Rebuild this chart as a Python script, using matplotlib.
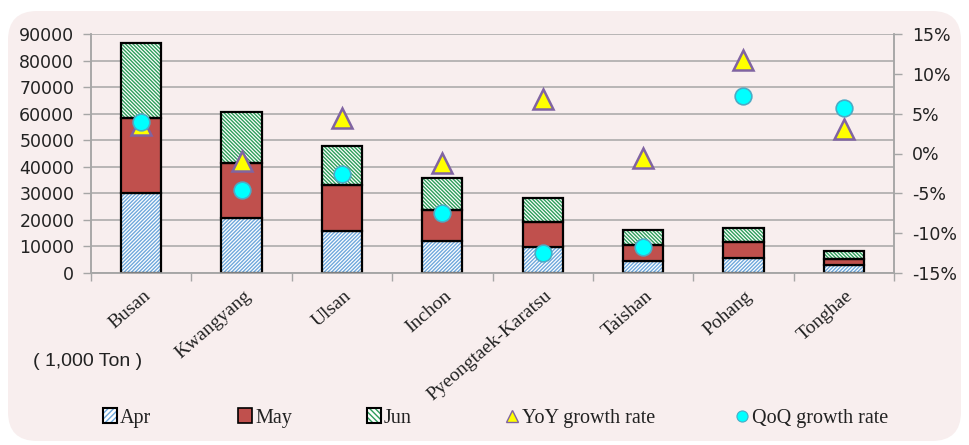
import matplotlib
matplotlib.use("Agg")
import matplotlib.pyplot as plt
from matplotlib.patches import FancyBboxPatch, Patch
from matplotlib.lines import Line2D
from matplotlib.legend_handler import HandlerTuple
from matplotlib.ticker import FuncFormatter
from matplotlib import font_manager
import numpy as np

ports = ["Busan", "Kwangyang", "Ulsan", "Inchon", "Pyeongtaek-Karatsu",
         "Taishan", "Pohang", "Tonghae"]
apr = [30300, 20700, 15900, 11900, 9900, 4400, 5600, 2900]
may = [28000, 20900, 17100, 11900, 9200, 6000, 5900, 2500]
jun = [28300, 19000, 15000, 12000, 9100, 5900, 5600, 2900]
yoy = [3.6, -1.0, 4.4, -1.2, 6.9, -0.6, 11.7, 3.1]
qoq = [4.0, -4.6, -2.6, -7.5, -12.5, -11.7, 7.2, 5.7]
left_ticks = [0, 10000, 20000, 30000, 40000, 50000, 60000, 70000, 80000, 90000]
right_ticks = [-15, -10, -5, 0, 5, 10, 15]

BG = "#F8EEEE"
GRID = "#A6A6A6"
APR_H = "#6FA8DC"
MAY_C = "#C0504D"
JUN_H = "#2E9E5B"

names = {f.name for f in font_manager.fontManager.ttflist}
narrow = "Liberation Sans Narrow" if "Liberation Sans Narrow" in names else "Liberation Sans"

fig = plt.figure(figsize=(9.69, 4.45), dpi=100)
fig.patch.set_facecolor("white")
box = FancyBboxPatch((8/969, 4/445), 953/969, 430/445,
                     boxstyle="round,pad=0,rounding_size=0.03",
                     transform=fig.transFigure, facecolor=BG, edgecolor="none",
                     zorder=-10, mutation_aspect=969/445)
fig.patches.append(box)

plt.rcParams['hatch.linewidth'] = 1.0
ax = fig.add_axes([91/969, 1-273/445, (894-91)/969, (273-34)/445])
ax.set_facecolor("none")
x = np.arange(len(ports))
w = 0.4
HA = "/" * 9
HJ = "\\" * 9

bottom = np.zeros(len(ports))
ax.bar(x, apr, w, bottom=bottom, facecolor="white", edgecolor=APR_H, hatch=HA, linewidth=0, zorder=2)
ax.bar(x, apr, w, bottom=bottom, fill=False, edgecolor="black", linewidth=1.6, zorder=3)
bottom += np.array(apr)
ax.bar(x, may, w, bottom=bottom, facecolor=MAY_C, edgecolor="black", linewidth=1.6, zorder=3)
bottom += np.array(may)
ax.bar(x, jun, w, bottom=bottom, facecolor="white", edgecolor=JUN_H, hatch=HJ, linewidth=0, zorder=2)
ax.bar(x, jun, w, bottom=bottom, fill=False, edgecolor="black", linewidth=1.6, zorder=3)

ax.set_xlim(-0.5, len(ports) - 0.5)
ax.set_ylim(0, 90000)
ax.set_yticks(left_ticks)
ax.set_yticklabels([str(v) for v in left_ticks], fontsize=12.5, color="#222222", family="DejaVu Sans")
ax.yaxis.grid(True, color=GRID, linewidth=1.1, zorder=0)
ax.set_axisbelow(True)
ax.tick_params(axis="y", direction="out", length=6, width=1, color=GRID, pad=6)
ax.set_xticks(np.arange(len(ports) + 1) - 0.5)
ax.set_xticklabels([])
ax.tick_params(axis="x", direction="out", length=6, width=1, color=GRID)
ax.spines["top"].set_visible(False)
for s in ["left", "right", "bottom"]:
    ax.spines[s].set_color(GRID)
    ax.spines[s].set_linewidth(1.1)

for i, name in enumerate(ports):
    ax.annotate(name, xy=(i, 0), xycoords="data", xytext=(5, -15), textcoords="offset points",
                rotation=41, ha="right", va="center", rotation_mode="anchor",
                fontsize=14, family="Liberation Serif", color="#222222")

ax2 = ax.twinx()
ax2.set_ylim(-15, 15)
ax2.set_yticks(right_ticks)
ax2.yaxis.set_major_formatter(FuncFormatter(lambda v, p: f"{int(v)}%"))
ax2.tick_params(axis="y", direction="out", length=6, width=1, color=GRID, pad=7,
                labelcolor="#222222", labelsize=12.5)
ax2.spines["top"].set_visible(False)
for s in ["left", "right", "bottom"]:
    ax2.spines[s].set_color(GRID)
    ax2.spines[s].set_linewidth(1.1)
ax2.plot(x, yoy, linestyle="none", marker="^", markersize=14, markerfacecolor="#FFFF00",
         markeredgecolor="#8064A2", markeredgewidth=1.8, zorder=5)
ax2.plot(x, qoq, linestyle="none", marker="o", markersize=12, markerfacecolor="#00FFFF",
         markeredgecolor="#4BACC6", markeredgewidth=1.2, zorder=6)

fig.text(33/969, 1-362/445, "( 1,000 Ton )", fontsize=14, family=narrow,
         color="#222222", va="center", ha="left")

# legend
h_apr = (Patch(facecolor="white", edgecolor=APR_H, hatch="//////", linewidth=0),
         Patch(fill=False, edgecolor="black", linewidth=1.5))
h_may = Patch(facecolor=MAY_C, edgecolor="black", linewidth=1.2)
h_jun = (Patch(facecolor="white", edgecolor=JUN_H, hatch="\\\\\\\\\\\\", linewidth=0),
         Patch(fill=False, edgecolor="black", linewidth=1.5))
h_yoy = Line2D([], [], linestyle="none", marker="^", markersize=8, markerfacecolor="#FFFF00",
               markeredgecolor="#8064A2", markeredgewidth=1.0)
h_qoq = Line2D([], [], linestyle="none", marker="o", markersize=8, markerfacecolor="#00FFFF",
               markeredgecolor="#4BACC6", markeredgewidth=0.8)
entries = [(h_apr, "Apr", 103), (h_may, "May", 238), (h_jun, "Jun", 367),
           (h_yoy, "YoY growth rate", 505), (h_qoq, "QoQ growth rate", 735)]
for h, lab, px in entries:
    lg = fig.legend([h], [lab], loc="center left", bbox_to_anchor=(px/969, 1-418/445),
                    frameon=False, handlelength=0.7, handleheight=0.7, handletextpad=0.15,
                    borderpad=0, borderaxespad=0,
                    prop={"family": "Liberation Serif", "size": 14.5},
                    handler_map={tuple: HandlerTuple(ndivide=1, pad=0)})
    for t in lg.get_texts():
        t.set_color("#222222")

fig.savefig("out.png", dpi=100, facecolor=fig.get_facecolor())
